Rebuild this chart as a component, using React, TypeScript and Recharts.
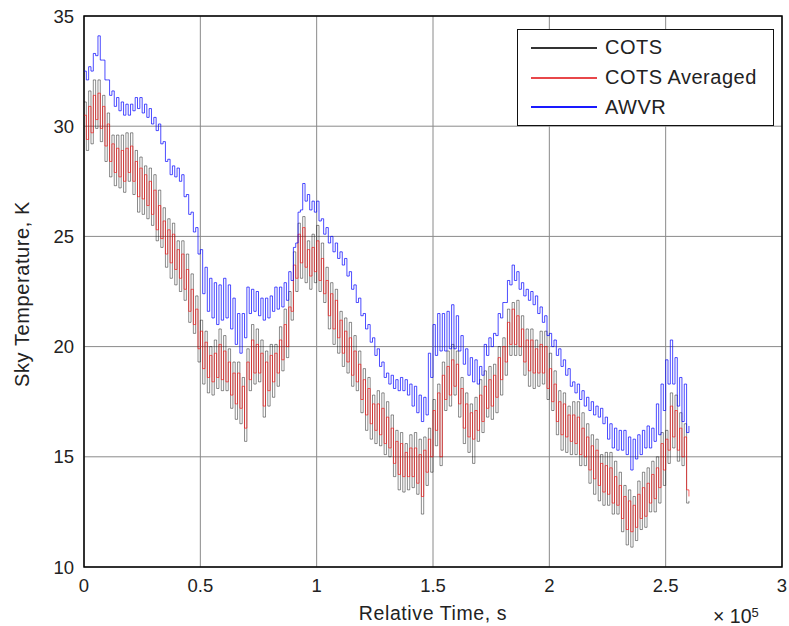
import React from 'react';
import { LineChart, Line, XAxis, YAxis, CartesianGrid, ReferenceArea } from 'recharts';

// Relative time (units of 1e5 s)
const times = [
  0, 0.01, 0.02, 0.03, 0.04, 0.05, 0.06, 0.07, 0.08, 0.09,
  0.1, 0.11, 0.12, 0.13, 0.14, 0.15, 0.16, 0.17, 0.18, 0.19,
  0.2, 0.21, 0.22, 0.23, 0.24, 0.25, 0.26, 0.27, 0.28, 0.29,
  0.3, 0.31, 0.32, 0.33, 0.34, 0.35, 0.36, 0.37, 0.38, 0.39,
  0.4, 0.41, 0.42, 0.43, 0.44, 0.45, 0.46, 0.47, 0.48, 0.49,
  0.5, 0.51, 0.52, 0.53, 0.54, 0.55, 0.56, 0.57, 0.58, 0.59,
  0.6, 0.61, 0.62, 0.63, 0.64, 0.65, 0.66, 0.67, 0.68, 0.69,
  0.7, 0.71, 0.72, 0.73, 0.74, 0.75, 0.76, 0.77, 0.78, 0.79,
  0.8, 0.81, 0.82, 0.83, 0.84, 0.85, 0.86, 0.87, 0.88, 0.89,
  0.9, 0.91, 0.92, 0.93, 0.94, 0.95, 0.96, 0.97, 0.98, 0.99,
  1.0, 1.01, 1.02, 1.03, 1.04, 1.05, 1.06, 1.07, 1.08, 1.09,
  1.1, 1.11, 1.12, 1.13, 1.14, 1.15, 1.16, 1.17, 1.18, 1.19,
  1.2, 1.21, 1.22, 1.23, 1.24, 1.25, 1.26, 1.27, 1.28, 1.29,
  1.3, 1.31, 1.32, 1.33, 1.34, 1.35, 1.36, 1.37, 1.38, 1.39,
  1.4, 1.41, 1.42, 1.43, 1.44, 1.45, 1.46, 1.47, 1.48, 1.49,
  1.5, 1.51, 1.52, 1.53, 1.54, 1.55, 1.56, 1.57, 1.58, 1.59,
  1.6, 1.61, 1.62, 1.63, 1.64, 1.65, 1.66, 1.67, 1.68, 1.69,
  1.7, 1.71, 1.72, 1.73, 1.74, 1.75, 1.76, 1.77, 1.78, 1.79,
  1.8, 1.81, 1.82, 1.83, 1.84, 1.85, 1.86, 1.87, 1.88, 1.89,
  1.9, 1.91, 1.92, 1.93, 1.94, 1.95, 1.96, 1.97, 1.98, 1.99,
  2.0, 2.01, 2.02, 2.03, 2.04, 2.05, 2.06, 2.07, 2.08, 2.09,
  2.1, 2.11, 2.12, 2.13, 2.14, 2.15, 2.16, 2.17, 2.18, 2.19,
  2.2, 2.21, 2.22, 2.23, 2.24, 2.25, 2.26, 2.27, 2.28, 2.29,
  2.3, 2.31, 2.32, 2.33, 2.34, 2.35, 2.36, 2.37, 2.38, 2.39,
  2.4, 2.41, 2.42, 2.43, 2.44, 2.45, 2.46, 2.47, 2.48, 2.49,
  2.5, 2.51, 2.52, 2.53, 2.54, 2.55, 2.56, 2.57, 2.58, 2.59,
  2.6,
];

const cots = [
  31.1, 28.9, 31.6, 29.2, 32.1, 29.9, 32.1, 29.3, 31.4, 28.4,
  30.6, 27.7, 29.6, 27.3, 29.6, 27.2, 29.6, 27.0, 29.7, 27.5,
  29.7, 26.9, 28.9, 26.1, 28.6, 26.0, 28.2, 25.8, 28.1, 25.5,
  27.8, 24.8, 27.1, 24.5, 26.3, 23.6, 25.8, 23.1, 25.6, 22.8,
  24.8, 22.5, 24.8, 22.1, 24.2, 21.1, 23.3, 20.6, 22.3, 19.3,
  21.2, 18.3, 20.7, 17.9, 20.0, 17.8, 20.3, 18.1, 20.8, 18.0,
  20.5, 18.0, 19.9, 17.2, 19.3, 16.7, 19.3, 16.5, 18.6, 15.7,
  19.9, 18.0, 21.0, 18.3, 20.8, 18.4, 20.3, 16.8, 19.8, 17.3,
  20.1, 17.7, 20.1, 18.2, 20.9, 18.9, 21.7, 19.5, 22.5, 21.2,
  24.3, 22.5, 25.6, 23.1, 25.9, 22.9, 24.8, 22.6, 25.1, 22.9,
  25.5, 22.5, 24.7, 22.0, 23.6, 20.8, 22.9, 20.1, 22.6, 19.7,
  21.6, 19.1, 21.3, 18.8, 21.1, 18.2, 20.5, 18.0, 19.8, 17.0,
  19.0, 16.2, 18.6, 15.8, 17.8, 15.6, 18.0, 15.5, 17.9, 15.1,
  17.5, 15.0, 16.9, 14.1, 16.2, 13.5, 16.1, 13.4, 15.6, 13.5,
  16.0, 13.6, 16.1, 13.3, 15.8, 12.4, 15.9, 13.7, 16.3, 14.3,
  17.6, 15.5, 18.3, 14.6, 19.3, 17.1, 19.8, 17.3, 20.1, 17.8,
  19.8, 16.8, 18.6, 15.6, 17.9, 15.2, 17.4, 14.7, 17.7, 15.7,
  18.5, 16.1, 18.9, 16.8, 19.1, 16.7, 19.2, 17.0, 20.0, 17.8,
  20.4, 18.7, 21.7, 19.6, 22.0, 19.6, 22.1, 19.6, 21.4, 18.7,
  20.8, 18.2, 20.8, 18.1, 20.3, 18.2, 20.7, 18.3, 20.7, 17.6,
  19.7, 17.1, 18.9, 16.0, 18.0, 15.3, 17.9, 15.2, 17.3, 15.1,
  17.5, 15.1, 17.5, 14.6, 17.0, 14.6, 16.5, 13.8, 16.0, 13.3,
  15.8, 13.0, 15.1, 12.8, 15.2, 12.8, 15.2, 12.4, 14.8, 12.4,
  14.3, 11.6, 13.7, 11.0, 13.5, 10.9, 13.2, 11.2, 13.9, 11.7,
  14.3, 11.8, 14.5, 12.5, 14.8, 12.5, 15.0, 12.9, 16.1, 13.7,
  16.2, 14.7, 17.9, 15.4, 17.8, 14.8, 17.0, 14.6, 16.5, 12.9,
  13.0,
];

const cotsAveraged = [
  30.5, 29.4, 30.9, 29.7, 31.4, 30.3, 31.5, 29.9, 30.9, 29.1,
  30.1, 28.4, 29.2, 27.9, 29.0, 27.7, 28.9, 27.5, 29.0, 27.9,
  29.1, 27.5, 28.4, 26.8, 28.1, 26.7, 27.8, 26.4, 27.5, 26.0,
  27.1, 25.3, 26.4, 24.9, 25.7, 24.2, 25.3, 23.8, 25.1, 23.5,
  24.4, 23.1, 24.2, 22.6, 23.5, 21.6, 22.6, 21.0, 21.7, 19.9,
  20.7, 19.0, 20.2, 18.6, 19.6, 18.4, 19.7, 18.6, 20.1, 18.5,
  19.8, 18.4, 19.3, 17.8, 18.8, 17.4, 18.8, 17.2, 18.2, 16.3,
  19.3, 18.5, 20.3, 18.8, 20.1, 18.8, 19.7, 17.3, 19.3, 18.0,
  19.6, 18.4, 19.7, 18.8, 20.3, 19.4, 21.0, 20.0, 21.8, 21.6,
  23.7, 23.1, 25.1, 23.8, 25.4, 23.6, 24.4, 23.2, 24.5, 23.4,
  24.8, 23.0, 24.0, 22.4, 23.0, 21.4, 22.4, 20.8, 22.1, 20.4,
  21.2, 19.7, 20.7, 19.3, 20.4, 18.7, 19.8, 18.4, 19.2, 17.6,
  18.5, 16.9, 18.1, 16.5, 17.4, 16.2, 17.4, 16.0, 17.2, 15.6,
  16.8, 15.4, 16.3, 14.7, 15.7, 14.2, 15.6, 14.1, 15.2, 14.1,
  15.4, 14.1, 15.4, 13.8, 15.1, 13.2, 15.3, 14.3, 15.8, 15.0,
  17.1, 16.2, 17.9, 15.0, 18.7, 17.6, 19.1, 17.8, 19.4, 18.2,
  19.2, 17.4, 18.1, 16.3, 17.4, 15.9, 17.0, 15.8, 17.1, 16.2,
  17.8, 16.6, 18.2, 17.2, 18.5, 17.3, 18.7, 17.7, 19.5, 18.5,
  20.0, 19.3, 21.1, 20.1, 21.7, 20.1, 21.4, 20.0, 20.8, 19.3,
  20.3, 18.9, 20.3, 18.8, 19.9, 18.8, 20.1, 18.8, 20.0, 18.1,
  19.0, 17.5, 18.3, 16.6, 17.5, 16.0, 17.4, 15.9, 16.9, 15.7,
  16.9, 15.6, 16.8, 15.1, 16.3, 15.0, 15.9, 14.4, 15.5, 14.0,
  15.3, 13.7, 14.7, 13.4, 14.6, 13.3, 14.5, 12.9, 14.1, 12.8,
  13.7, 12.2, 13.2, 11.7, 13.0, 11.6, 12.8, 11.8, 13.3, 12.2,
  13.6, 12.3, 13.8, 12.9, 14.2, 13.1, 14.5, 13.6, 15.6, 14.4,
  15.8, 15.3, 17.3, 15.9, 17.1, 15.3, 16.3, 15.0, 15.9, 13.5,
  13.2,
];

const awvr = [
  32.5, 32.1, 32.7, 32.5, 33.3, 33.2, 34.1, 33.0, 33.0, 32.1,
  32.1, 31.4, 31.6, 30.9, 31.3, 30.7, 31.1, 30.5, 31.0, 30.5,
  31.0, 30.7, 31.3, 30.8, 31.3, 30.6, 31.0, 30.4, 30.8, 30.1,
  30.4, 29.8, 30.1, 29.2, 29.3, 28.4, 28.5, 27.8, 28.2, 27.7,
  28.1, 27.5, 27.8, 26.8, 26.9, 26.0, 26.1, 25.2, 25.4, 24.2,
  24.4, 22.4, 23.6, 21.6, 23.1, 21.3, 22.9, 21.0, 22.8, 21.2,
  23.1, 21.3, 22.8, 20.8, 22.2, 20.1, 21.5, 19.7, 21.5, 20.4,
  22.7, 21.5, 22.6, 21.6, 22.5, 21.4, 22.2, 21.2, 22.2, 21.3,
  22.3, 21.6, 22.7, 21.7, 22.7, 21.8, 22.9, 22.1, 23.4, 23.0,
  24.5, 24.7, 26.1, 26.2, 27.4, 26.6, 26.9, 26.2, 26.6, 26.1,
  26.6, 25.7, 25.8, 25.1, 25.4, 24.7, 25.0, 24.3, 24.7, 24.0,
  24.3, 23.7, 24.0, 23.2, 23.4, 22.6, 22.8, 22.0, 22.2, 21.4,
  21.5, 20.8, 21.0, 20.2, 20.4, 19.6, 19.9, 19.1, 19.3, 18.6,
  18.8, 18.3, 18.7, 18.1, 18.5, 18.0, 18.6, 18.0, 18.5, 17.8,
  18.3, 17.3, 18.2, 17.0, 17.8, 16.6, 17.7, 16.9, 19.7, 18.6,
  21.0, 19.6, 21.5, 19.8, 21.5, 19.8, 21.6, 19.9, 21.9, 19.9,
  21.4, 19.8, 20.5, 19.2, 19.9, 18.7, 19.5, 18.4, 19.4, 18.3,
  19.1, 18.7, 20.1, 19.6, 20.4, 20.0, 20.6, 20.5, 21.5, 21.3,
  22.0, 22.0, 23.0, 22.8, 23.7, 23.0, 23.4, 22.6, 22.9, 22.3,
  22.6, 22.1, 22.5, 21.9, 22.3, 21.5, 21.8, 21.1, 21.4, 20.5,
  20.6, 20.0, 20.3, 19.6, 19.9, 19.1, 19.4, 18.7, 19.0, 18.2,
  18.4, 17.9, 18.3, 17.6, 18.0, 17.3, 17.7, 17.1, 17.5, 16.9,
  17.3, 16.8, 17.2, 16.5, 16.8, 15.8, 16.5, 15.4, 16.3, 15.3,
  16.2, 15.3, 16.2, 15.1, 15.9, 14.4, 15.8, 14.9, 16.0, 15.1,
  16.2, 15.4, 16.4, 15.4, 16.3, 15.7, 17.4, 16.0, 18.3, 17.1,
  19.4, 18.3, 20.3, 18.3, 19.5, 17.3, 18.6, 16.6, 18.3, 16.1,
  16.4,
];

const xTicks = [0, 0.5, 1, 1.5, 2, 2.5, 3];
const yTicks = [10, 15, 20, 25, 30, 35];
const seriesNames = ['COTS', 'COTS Averaged', 'AWVR'];
const seriesColors = ['#000000', '#ff0000', '#0000ff'];
const legendColors = ['#333333', '#e8474a', '#1a1aff'];
const xLabel = 'Relative Time, s';
const xExponentBase = '× 10';
const xExponent = '5';
const yLabel = 'Sky Temperature, K';

const data = times.map((t, i) => ({ t, cots: cots[i], avg: cotsAveraged[i], awvr: awvr[i] }));

const FONT = '"Liberation Sans", Arial, Helvetica, sans-serif';
const TEXT = '#222';
const TICK_SIZE = 18.5;
const LABEL_SIZE = 19.5;

const XLabelContent = (props: any) => {
  const vb = props.viewBox;
  const cx = vb.x + vb.width / 2;
  const right = vb.x + vb.width;
  return (
    <g>
      <text
        x={cx}
        y={620}
        textAnchor="middle"
        fontFamily={FONT}
        fontSize={LABEL_SIZE}
        letterSpacing={0.6}
        fill={TEXT}
      >
        {xLabel}
      </text>
      <text x={right - 69} y={623} textAnchor="start" fontFamily={FONT} fontSize={LABEL_SIZE} fill={TEXT}>
        {xExponentBase}
        <tspan dy={-6} fontSize={13}>{xExponent}</tspan>
      </text>
    </g>
  );
};

const YLabelContent = (props: any) => {
  const vb = props.viewBox;
  const cy = vb.y + vb.height / 2 + 2.5;
  const x = 29;
  return (
    <text
      x={x}
      y={cy}
      textAnchor="middle"
      fontFamily={FONT}
      fontSize={20}
      letterSpacing={0.6}
      fill={TEXT}
      transform={`rotate(-90, ${x}, ${cy})`}
    >
      {yLabel}
    </text>
  );
};

export default function App() {
  return (
    <div style={{ position: 'absolute', left: 0, top: 0, width: 789, height: 626, background: '#fff' }}>
      <LineChart width={789} height={626} data={data} margin={{ top: 16, right: 7, left: 0, bottom: 0 }}>
        <CartesianGrid stroke="#8a8a8a" strokeWidth={1} />
        <XAxis
          dataKey="t"
          type="number"
          domain={[0, 3]}
          ticks={xTicks}
          allowDataOverflow
          axisLine={false}
          tickLine={false}
          tickSize={0}
          tickMargin={12}
          height={59}
          tick={{ fontFamily: FONT, fontSize: TICK_SIZE, fill: TEXT }}
          label={{ content: XLabelContent } as any}
        />
        <YAxis
          type="number"
          domain={[10, 35]}
          ticks={yTicks}
          allowDataOverflow
          axisLine={false}
          tickLine={false}
          tickSize={0}
          tickMargin={10}
          width={84}
          tick={{ fontFamily: FONT, fontSize: TICK_SIZE, fill: TEXT }}
          label={{ content: YLabelContent } as any}
        />
        <Line
          type="stepAfter"
          dataKey="cots"
          name={seriesNames[0]}
          stroke={seriesColors[0]}
          strokeOpacity={0.45}
          strokeWidth={1}
          dot={false}
          isAnimationActive={false}
        />
        <Line
          type="stepAfter"
          dataKey="avg"
          name={seriesNames[1]}
          stroke={seriesColors[1]}
          strokeOpacity={0.6}
          strokeWidth={1}
          dot={false}
          isAnimationActive={false}
        />
        <Line
          type="stepAfter"
          dataKey="awvr"
          name={seriesNames[2]}
          stroke={seriesColors[2]}
          strokeOpacity={0.7}
          strokeWidth={1}
          dot={false}
          isAnimationActive={false}
        />
        <ReferenceArea x1={0} x2={3} y1={10} y2={35} fill="none" stroke="#000" strokeWidth={1.5} ifOverflow="visible" />
      </LineChart>
      <div
        style={{
          position: 'absolute',
          left: 517,
          top: 29,
          width: 257,
          height: 97,
          boxSizing: 'border-box',
          border: '1.5px solid #111',
          background: '#fff',
          padding: '3px 0 0 13px',
          fontFamily: FONT,
          fontSize: 20,
          letterSpacing: 0.5,
          color: TEXT,
        }}
      >
        {seriesNames.map((name, i) => (
          <div key={name} style={{ display: 'flex', alignItems: 'center', height: 29.7 }}>
            <span
              style={{
                display: 'inline-block',
                width: 66,
                height: 0,
                borderTop: `2px solid ${legendColors[i]}`,
                marginRight: 8,
              }}
            />
            <span>{name}</span>
          </div>
        ))}
      </div>
    </div>
  );
}
